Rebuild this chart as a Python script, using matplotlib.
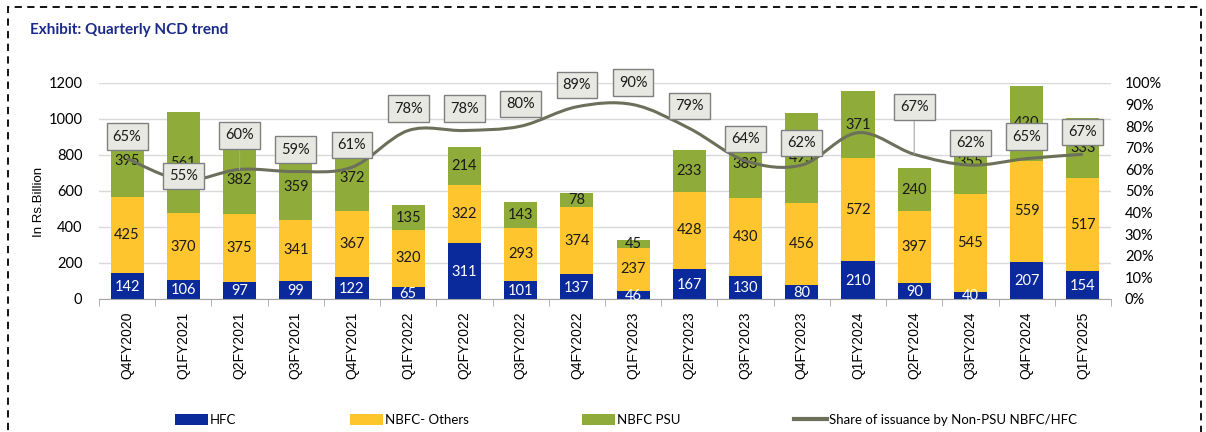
import numpy as np
import matplotlib
matplotlib.use("Agg")
import matplotlib.pyplot as plt
from matplotlib.path import Path
from matplotlib.patches import PathPatch, Rectangle, Patch
from matplotlib.lines import Line2D

quarters = ["Q4FY2020", "Q1FY2021", "Q2FY2021", "Q3FY2021", "Q4FY2021", "Q1FY2022",
            "Q2FY2022", "Q3FY2022", "Q4FY2022", "Q1FY2023", "Q2FY2023", "Q3FY2023",
            "Q4FY2023", "Q1FY2024", "Q2FY2024", "Q3FY2024", "Q4FY2024", "Q1FY2025"]
hfc = [142, 106, 97, 99, 122, 65, 311, 101, 137, 46, 167, 130, 80, 210, 90, 40, 207, 154]
nbfc_others = [425, 370, 375, 341, 367, 320, 322, 293, 374, 237, 428, 430, 456, 572, 397, 545, 559, 517]
nbfc_psu = [395, 561, 382, 359, 372, 135, 214, 143, 78, 45, 233, 383, 495, 371, 240, 355, 420, 333]
share = [65, 55, 60, 59, 61, 78, 78, 80, 89, 90, 79, 64, 62, 77, 67, 62, 65, 67]
share_labels = ["65%", "55%", "60%", "59%", "61%", "78%", "78%", "80%", "89%", "90%",
                "79%", "64%", "62%", None, "67%", "62%", "65%", "67%"]
label_dy = [22, 4, 34, 22, 22, 22, 22, 22, 22, 22, 22, 22, 22, 22, 47, 22, 22, 22]

C_HFC = "#0A2A9C"
C_OTH = "#FFC52F"
C_PSU = "#8FAC3A"
C_LINE = "#6C705B"

fig = plt.figure(figsize=(12.06, 4.32), dpi=100)
fig.patch.set_facecolor("white")

ax = fig.add_axes([99/1206, 1-299/432, (1111-99)/1206, (299-83)/432])
x = np.arange(len(quarters))
w = 0.59
b1 = np.array(hfc)
b2 = np.array(nbfc_others)
b3 = np.array(nbfc_psu)
ax.bar(x, b1, w, color=C_HFC, zorder=2)
ax.bar(x, b2, w, bottom=b1, color=C_OTH, zorder=2)
ax.bar(x, b3, w, bottom=b1+b2, color=C_PSU, zorder=2)

lblfont = dict(family=["Lato", "DejaVu Sans"], fontsize=10.5, ha="center", va="center", zorder=3)
for i in x:
    ax.text(i, b1[i]/2 - 5, str(b1[i]), color="white", **lblfont)
    ax.text(i, b1[i] + b2[i]/2, str(b2[i]), color="#1a1a1a", **lblfont)
    ax.text(i, b1[i] + b2[i] + b3[i]/2, str(b3[i]), color="#1a1a1a", **lblfont)

ax.set_xlim(-0.5, len(quarters)-0.5)
ax.set_ylim(0, 1200)
ax.set_yticks(range(0, 1201, 200))
ax.grid(axis="y", color="#D9D9D9", lw=1)
ax.set_axisbelow(True)
for s in ["top", "right", "left"]:
    ax.spines[s].set_visible(False)
ax.spines["bottom"].set_color("#A6A6A6")
ax.set_xticks(x)
ax.set_xticklabels(quarters, rotation=90, family="Liberation Sans", fontsize=10)
ax.set_xticks(np.arange(-0.5, len(quarters), 1), minor=True)
ax.tick_params(axis="x", which="major", length=0, pad=9)
ax.tick_params(axis="x", which="minor", length=5, color="#A6A6A6")
ax.tick_params(axis="y", length=0, pad=12)
for t in ax.get_yticklabels():
    t.set_family(["Lato", "DejaVu Sans"])
    t.set_fontsize(10.5)
ax.set_ylabel("In Rs.Billion", family=["Liberation Sans"], fontsize=9.5)
ax.yaxis.set_label_coords((45 - 99) / (1111 - 99), 0.45)

ax2 = ax.twinx()
ax2.set_ylim(0, 1.0)
ax2.set_yticks(np.arange(0, 1.01, 0.1))
ax2.set_yticklabels([f"{int(round(v*100))}%" for v in np.arange(0, 1.01, 0.1)])
for t in ax2.get_yticklabels():
    t.set_family(["Lato", "DejaVu Sans"])
    t.set_fontsize(10.5)
ax2.tick_params(axis="y", length=0, pad=10)
for s in ["top", "right", "left", "bottom"]:
    ax2.spines[s].set_visible(False)

# smoothed line (Catmull-Rom converted to cubic Bezier through the data points)
ys = np.array(share) / 100.0
pts = np.column_stack([x, ys])
verts = [tuple(pts[0])]
codes = [Path.MOVETO]
n = len(pts)
for i in range(n - 1):
    p0 = pts[i-1] if i > 0 else pts[i]
    p1 = pts[i]
    p2 = pts[i+1]
    p3 = pts[i+2] if i + 2 < n else pts[i+1]
    c1 = p1 + (p2 - p0) / 6.0
    c2 = p2 - (p3 - p1) / 6.0
    verts += [tuple(c1), tuple(c2), tuple(p2)]
    codes += [Path.CURVE4] * 3
ax2.add_patch(PathPatch(Path(verts, codes), fill=False, edgecolor=C_LINE, lw=2.2, zorder=4))

for i in x:
    if share_labels[i] is None:
        continue
    dy = label_dy[i]
    arrow = dict(arrowstyle="-", color="#A6A6A6", lw=0.8, shrinkA=0, shrinkB=0) if dy > 30 else None
    ax2.annotate(share_labels[i], (i, ys[i]), xytext=(0, dy), textcoords="offset pixels",
                 ha="center", va="center", fontsize=10.5, family=["Lato", "DejaVu Sans"],
                 color="#1a1a1a", zorder=6, arrowprops=arrow,
                 bbox=dict(boxstyle="square,pad=0.42", fc="#E8E8E3", ec="#7F7F7F", lw=1))

# title
fig.text(30/1206, 1-30/432, "Exhibit: Quarterly NCD trend", color="#1B2A8A", fontsize=11,
         fontweight="bold", family=["Lato", "DejaVu Sans"], ha="left", va="center")

# dashed frame
fig.add_artist(Rectangle((8/1206, -0.1), (1201-8)/1206, 1.1 - 7/432, transform=fig.transFigure,
                         fill=False, ec="black", lw=1.3, ls=(0, (4, 3))))

# legend
handles = [Patch(facecolor=C_HFC), Patch(facecolor=C_OTH), Patch(facecolor=C_PSU),
           Line2D([0], [0], color=C_LINE, lw=3)]
labels = ["HFC", "NBFC- Others", "NBFC PSU", "Share of issuance by Non-PSU NBFC/HFC"]
fig.legend(handles, labels, loc="center left", bbox_to_anchor=(163/1206, 1-420/432), ncol=4,
           frameon=False, prop=dict(family=["Lato", "DejaVu Sans"], size=9.5),
           handlelength=2.5, handleheight=0.9, handletextpad=0.15, columnspacing=8.6)

fig.savefig("out.png", dpi=100)
